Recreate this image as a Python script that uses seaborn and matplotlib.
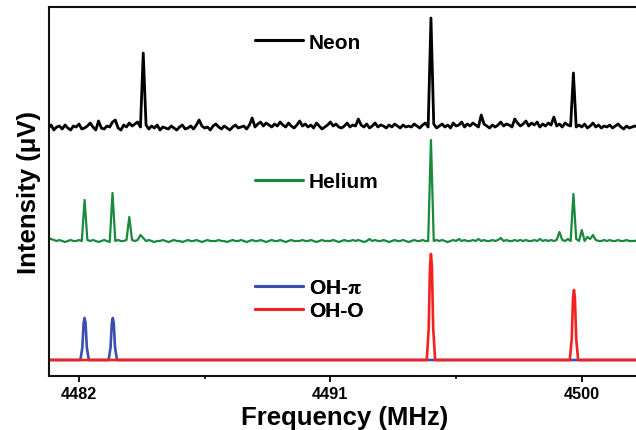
import numpy as np
import pandas as pd
import matplotlib
matplotlib.use('Agg')
import matplotlib.pyplot as plt
from matplotlib.lines import Line2D
from matplotlib.ticker import MultipleLocator
import seaborn as sns

# sampling of the two measured spectra (MHz)
freq_start = 4480.9
freq_step = 0.1

neon_noise = [
    0, 3, -2, 1, 2, -1, 3, 0, -2, 2,
    1, 4, -1, 0, 2, 5, 1, -2, 7, 0,
    -1, 2, 1, 6, 8, 0, -2, 3, 1, 5,
    2, 4, 6, 1, 0, 3, -1, 2, 0, 3,
    -2, 1, 0, -1, 2, 0, -2, 1, 3, -1,
    0, 2, -1, 3, 8, 2, 0, 1, -2, 2,
    4, 1, -1, 2, 0, -2, 1, 3, 0, 1,
    2, -1, 3, 10, 1, 4, 6, 2, 5, 3,
    1, 4, 2, 6, 3, 1, 5, 2, 0, 3,
    7, 2, 4, 1, 3, 0, 5, 2, -1, 1,
    3, 6, 2, 4, 1, 0, 2, 5, 1, 3,
    2, 9, 3, 1, 4, 0, 2, 5, 1, 3,
    2, 0, 3, 1, 4, 2, 0, 3, 1, 2,
    1, 4, 2, 0, 3, 5, 1, 2, 4, 0,
    2, 4, 1, 3, 0, 5, 2, 3, 6, 1,
    4, 2, 5, 3, 1, 13, 4, 2, 0, 3,
    1, 3, 6, 2, 4, 3, 1, 9, 5, 2,
    4, 7, 2, 5, 3, 6, 1, 4, 2, 5,
    3, 11, 2, 4, 1, 5, 3, 2, 6, 1,
    3, 1, 4, 0, 2, 5, 1, 3, 0, 2,
    1, 3, 0, 2, 4, 1, -1, 2, 0, 1,
    2, 1,
]
helium_noise = [
    3, 2, 1, 0, 1, 0, -1, 0, 1, 0,
    0, 1, 0, -1, 1, 0, 1, 0, -1, 0,
    1, 0, -1, 0, 0, 1, 0, 0, 1, 0,
    1, 0, 1, 0, 3, 0, 1, 0, -1, 0,
    0, 1, 0, -1, 0, 1, 0, 0, -1, 0,
    1, 0, 0, 1, 0, -1, 0, 1, 0, 0,
    0, 1, 0, 0, -1, 0, 1, 0, 0, 1,
    0, -1, 0, 1, 0, 0, 1, 0, -1, 0,
    1, 0, 0, 1, 0, -1, 0, 1, 0, 0,
    0, 1, 0, 0, 1, 0, -1, 0, 1, 0,
    0, 0, 1, 0, -1, 0, 1, 0, 0, 1,
    0, 1, 0, -1, 0, 2, 0, 1, 0, 0,
    1, 0, -1, 0, 1, 0, 0, 1, 0, -1,
    0, 1, 0, 0, 1, 0, 0, 0, 0, 1,
    0, 1, 0, -1, 0, 1, 0, 2, 0, 1,
    0, 0, 1, 0, 2, 0, 1, 0, 0, 1,
    0, 1, 3, 0, 1, 0, 0, 1, 0, 1,
    0, 1, 0, 0, 1, 0, 2, 0, 1, 0,
    1, 0, 1, 0, 1, 0, 2, 0, 0, 2,
    0, 1, 0, 0, 2, 0, 1, 0, 0, 1,
    0, 1, 0, 0, 1, 0, 0, 1, 0, 0,
    0, 1,
]

# lines on top of the measured baselines: frequency (MHz) and height
neon_peak_freq = [4484.3, 4494.6, 4499.7]
neon_peak_height = [75, 110, 55]
helium_peak_freq = [4482.2, 4483.2, 4483.8, 4484.2, 4494.6,
                    4499.2, 4499.7, 4500.0, 4500.2, 4500.4]
helium_peak_height = [41, 48, 24, 6, 101, 9, 47, 11, 4, 6]

# simulated spectra
oh_pi_freq = [4482.2, 4483.21]
oh_pi_height = [42, 42]
oh_o_freq = [4494.6, 4499.72]
oh_o_height = [106, 70]
line_offsets = [-0.15, -0.08, -0.035, 0.0, 0.035, 0.08, 0.15]
line_shape = [0.0, 0.3, 0.88, 1.0, 0.88, 0.3, 0.0]
sim_range = [4480.9, 4502.0]

trace_names = ['Neon', 'Helium', 'OH-$\\mathrm{\\pi}$', 'OH-O']
trace_colors = ['#000000', '#178a3c', '#3a4fb0', '#f42121']
trace_offsets = [232, 119, 0, 0]


def measured(noise, pf, ph):
    f = freq_start + freq_step * np.arange(len(noise))
    y = np.array(noise, dtype=float)
    for fr, h in zip(pf, ph):
        y[int(round((fr - freq_start) / freq_step))] = h
    return f, y


def simulated(pf, ph):
    xs, ys = [sim_range[0]], [0.0]
    for fr, h in zip(pf, ph):
        for o, s in zip(line_offsets, line_shape):
            xs.append(fr + o)
            ys.append(h * s)
    xs.append(sim_range[1])
    ys.append(0.0)
    return np.array(xs), np.array(ys)


traces = [measured(neon_noise, neon_peak_freq, neon_peak_height),
          measured(helium_noise, helium_peak_freq, helium_peak_height),
          simulated(oh_pi_freq, oh_pi_height),
          simulated(oh_o_freq, oh_o_height)]

frames = []
for name, off, (f, y) in zip(trace_names, trace_offsets, traces):
    frames.append(pd.DataFrame({'freq': f, 'intensity': y + off, 'trace': name}))
df = pd.concat(frames, ignore_index=True)

sns.set_style('ticks')
plt.rcParams['font.family'] = ['Liberation Sans', 'DejaVu Sans']
plt.rcParams['font.weight'] = 'bold'
plt.rcParams['mathtext.fontset'] = 'stix'
plt.rcParams['text.color'] = 'black'
plt.rcParams['axes.labelcolor'] = 'black'
plt.rcParams['xtick.color'] = 'black'

fig = plt.figure(figsize=(6.36, 4.31), dpi=100)
ax = fig.add_axes([0.077, 0.1253, 0.93, 0.8561])
sns.lineplot(data=df, x='freq', y='intensity', hue='trace', hue_order=trace_names,
             palette=dict(zip(trace_names, trace_colors)), estimator=None,
             sort=False, legend=False, ax=ax)
for ln, lw in zip(ax.lines, [2.0, 1.6, 1.9, 1.9]):
    ln.set_linewidth(lw)

ax.set_xlim(4480.925, 4502.1)
ax.set_ylim(-16, 353)
ax.set_yticks([])
ax.xaxis.set_major_locator(MultipleLocator(9))
ax.xaxis.set_minor_locator(MultipleLocator(4.5))
ax.tick_params(axis='x', which='major', direction='out', length=4, width=1.3,
               labelsize=11.7, pad=3, colors='black')
ax.tick_params(axis='x', which='minor', direction='out', length=2.5, width=1.2,
               colors='black')
for lbl in ax.get_xticklabels():
    lbl.set_fontweight('bold')
for s in ['left', 'bottom', 'top']:
    ax.spines[s].set_linewidth(1.5)
    ax.spines[s].set_color('#111111')
ax.spines['right'].set_visible(False)

ax.set_xlabel('Frequency (MHz)', fontsize=18.5, fontweight='bold', labelpad=3,
              color='black')
ax.set_ylabel('Intensity (μV)', fontsize=18.5, fontweight='bold', labelpad=6,
              color='black')


def add_legend(idx, y):
    handles = [Line2D([], [], color=trace_colors[i], lw=2.2) for i in idx]
    leg = ax.legend(handles, [trace_names[i] for i in idx], loc='center left',
                    bbox_to_anchor=(0.348, y), frameon=False,
                    prop={'weight': 'bold', 'size': 15}, handlelength=2.3,
                    handletextpad=0.3, borderpad=0, borderaxespad=0,
                    labelspacing=0.2, labelcolor='black')
    ax.add_artist(leg)


add_legend([0], 0.905)
add_legend([1], 0.526)
add_legend([2, 3], 0.209)

fig.savefig('out.png', dpi=100)
